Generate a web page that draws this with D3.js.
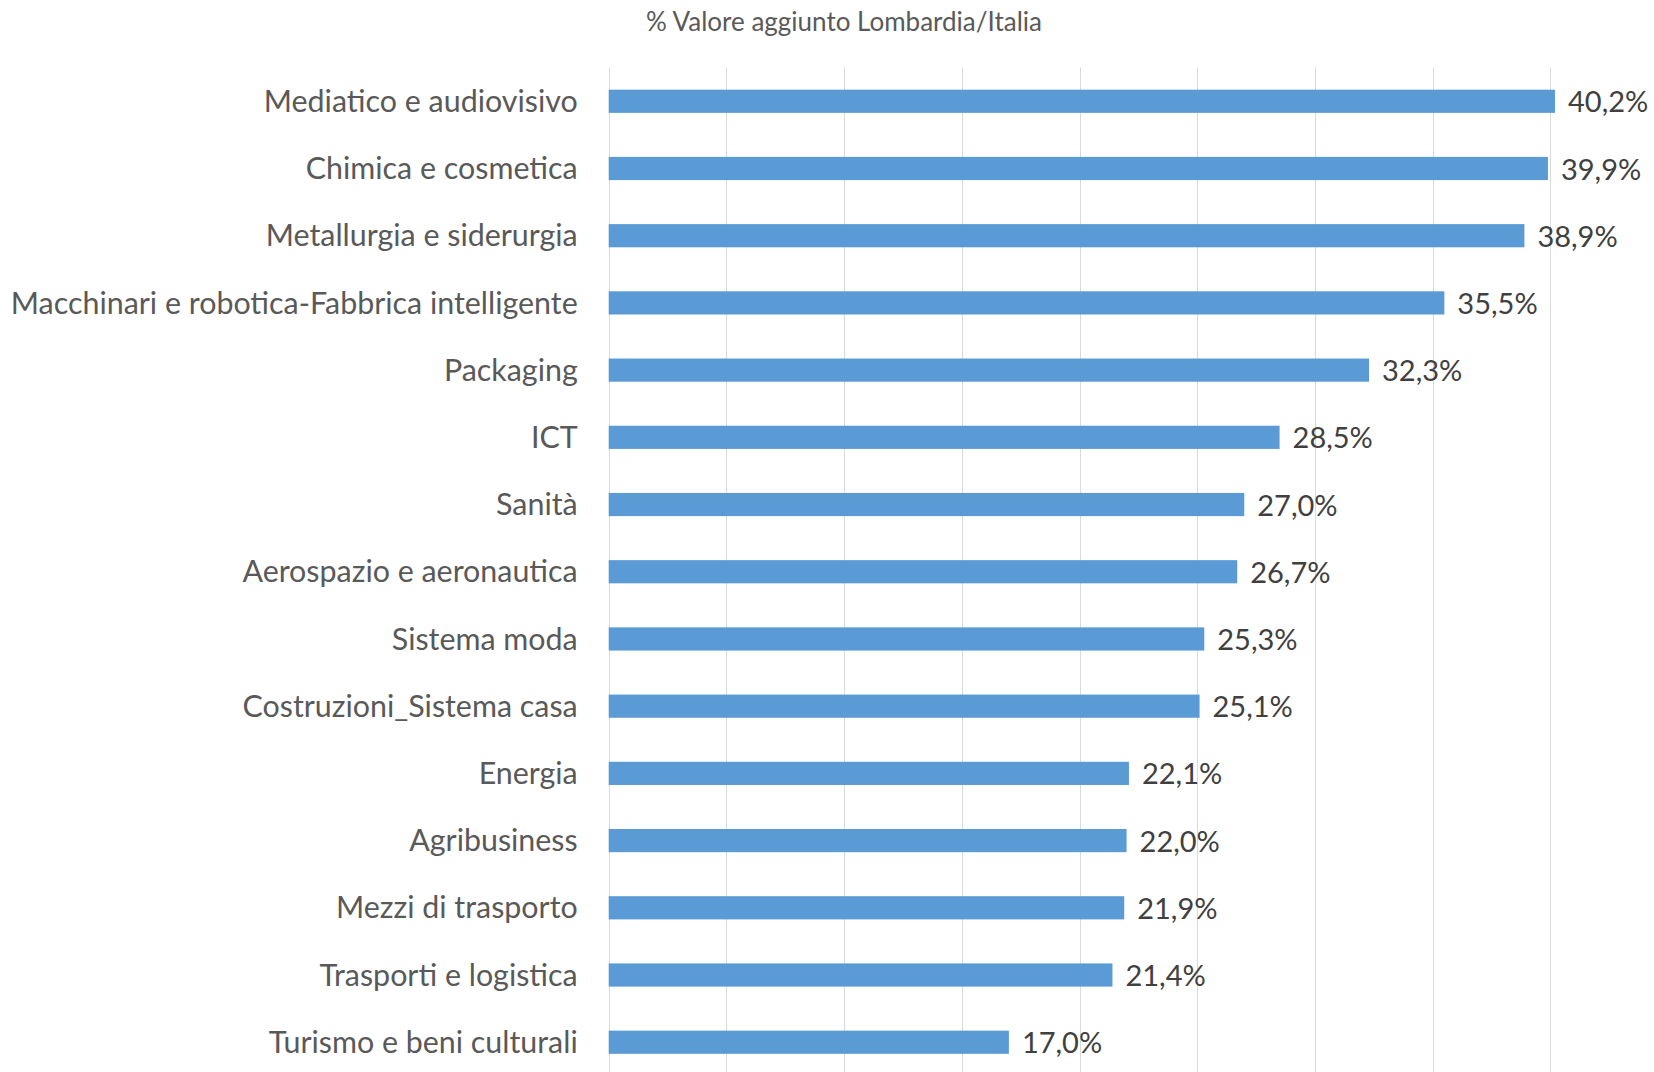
<!DOCTYPE html>
<html>
<head>
<meta charset="utf-8">
<script src="https://cdn.jsdelivr.net/npm/d3@7"></script>
<style>
  html, body { margin: 0; padding: 0; background: #fff; }
</style>
</head>
<body>
<div id="chart"></div>
<script>
const width = 1654;
const height = 1072;

// data
const categories = [
    "Mediatico e audiovisivo",
    "Chimica e cosmetica",
    "Metallurgia e siderurgia",
    "Macchinari e robotica-Fabbrica intelligente",
    "Packaging",
    "ICT",
    "Sanità",
    "Aerospazio e aeronautica",
    "Sistema moda",
    "Costruzioni_Sistema casa",
    "Energia",
    "Agribusiness",
    "Mezzi di trasporto",
    "Trasporti e logistica",
    "Turismo e beni culturali"
];
const values = [40.2, 39.9, 38.9, 35.5, 32.3, 28.5, 27.0, 26.7, 25.3, 25.1, 22.1, 22.0, 21.9, 21.4, 17.0];
const gridTicks = [0, 5, 10, 15, 20, 25, 30, 35, 40];
const title = "% Valore aggiunto Lombardia/Italia";

const fontFamily = "Lato, 'Open Sans', sans-serif";
const plot = { left: 608.7, right: 1668, top: 67.5, bottom: 1076 };

const fmt = v => d3.format(".1f")(v).replace(".", ",") + "%";

const svg = d3.select("#chart").append("svg")
    .attr("width", width)
    .attr("height", height)
    .attr("viewBox", [0, 0, width, height])
    .style("font-family", fontFamily);

const x = d3.scaleLinear()
    .domain([0, 45])
    .range([plot.left, plot.right]);

const y = d3.scaleBand()
    .domain(categories)
    .range([plot.top, plot.bottom])
    .paddingInner(0.655)
    .paddingOuter(0.33);

// title
svg.append("text")
    .attr("x", 844)
    .attr("y", 31)
    .attr("text-anchor", "middle")
    .attr("fill", "#595959")
    .style("font-size", "26px")
    .text(title);

// vertical gridlines
svg.append("g").selectAll("line")
    .data(gridTicks)
    .join("line")
    .attr("x1", d => Math.round(x(d)) + 0.5)
    .attr("x2", d => Math.round(x(d)) + 0.5)
    .attr("y1", plot.top)
    .attr("y2", height)
    .attr("stroke", "#d9d9d9")
    .attr("stroke-width", 1);

const data = categories.map((c, i) => ({ name: c, value: values[i] }));

// bars
svg.append("g").selectAll("rect")
    .data(data)
    .join("rect")
    .attr("x", x(0))
    .attr("y", d => y(d.name))
    .attr("width", d => x(d.value) - x(0))
    .attr("height", y.bandwidth())
    .attr("fill", "#5b9bd5");

// category labels
svg.append("g").selectAll("text")
    .data(data)
    .join("text")
    .attr("x", x(0) - 31)
    .attr("y", d => y(d.name) + y.bandwidth() / 2)
    .attr("dy", "0.35em")
    .attr("text-anchor", "end")
    .attr("fill", "#595959")
    .style("font-size", "30.4px")
    .text(d => d.name);

// value labels
svg.append("g").selectAll("text")
    .data(data)
    .join("text")
    .attr("x", d => x(d.value) + 13)
    .attr("y", d => y(d.name) + y.bandwidth() / 2)
    .attr("dy", "0.38em")
    .attr("fill", "#404040")
    .style("font-size", "29px")
    .text(d => fmt(d.value));
</script>
</body>
</html>
